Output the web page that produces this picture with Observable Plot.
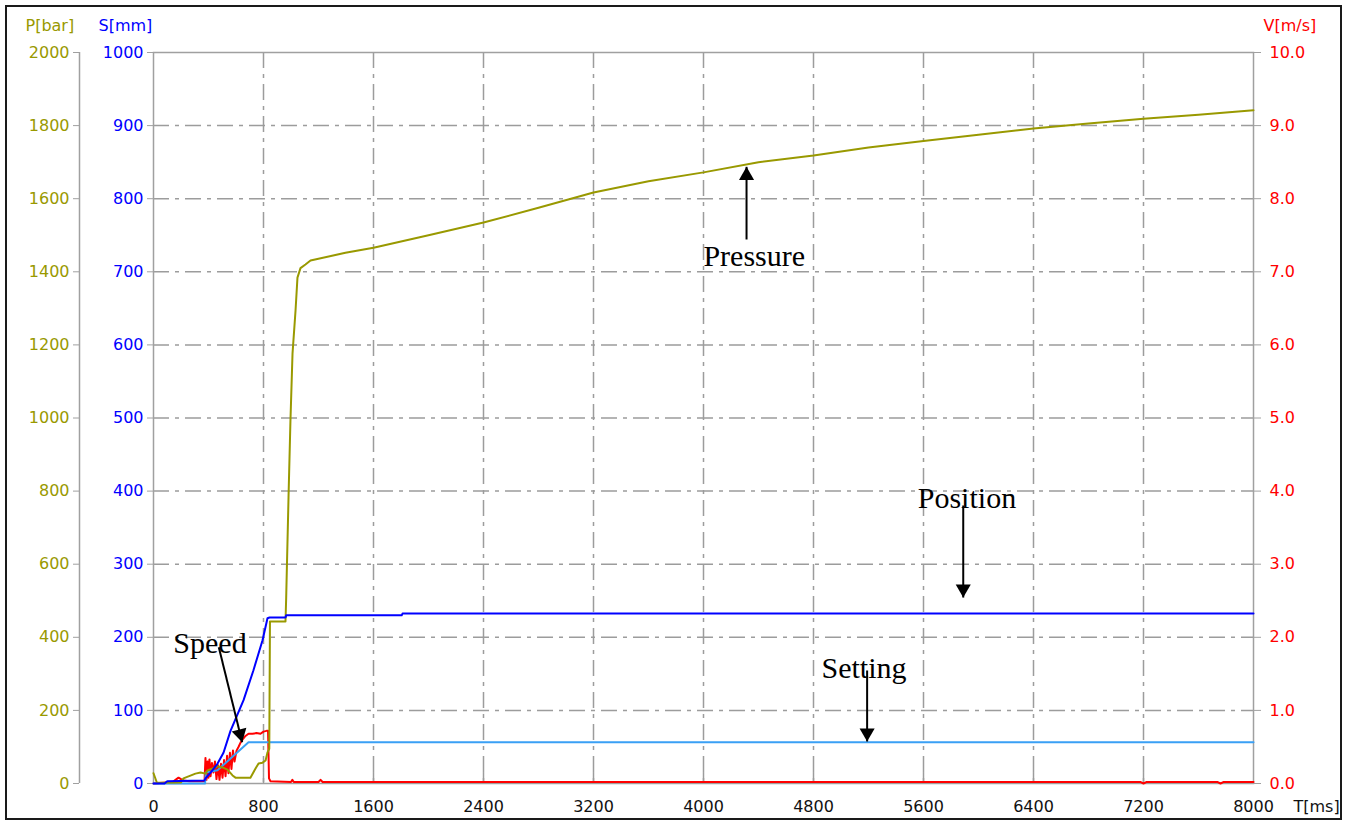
<!DOCTYPE html>
<html><head><meta charset="utf-8">
<script src="https://cdn.jsdelivr.net/npm/d3@7"></script>
<script src="https://cdn.jsdelivr.net/npm/@observablehq/plot@0.6"></script>
<style>
html,body{margin:0;padding:0;background:#fff;}
#wrap{position:relative;width:1348px;height:821px;overflow:hidden;}
#border{position:absolute;left:5px;top:5px;width:1333px;height:811px;border:2px solid #1a1a1a;pointer-events:none;}
</style></head><body>
<div id="wrap"><div id="chart"></div><div id="border"></div></div>
<script>
// ---- Data ----
const timeTicks = [0, 800, 1600, 2400, 3200, 4000, 4800, 5600, 6400, 7200, 8000];
const gridTimes = [800, 1600, 2400, 3200, 4000, 4800, 5600, 6400, 7200];
const sTicks = [0, 100, 200, 300, 400, 500, 600, 700, 800, 900, 1000];
const gridS = [100, 200, 300, 400, 500, 600, 700, 800, 900];
const pTickLabels = ["0", "200", "400", "600", "800", "1000", "1200", "1400", "1600", "1800", "2000"];
const vTickLabels = ["0.0", "1.0", "2.0", "3.0", "4.0", "5.0", "6.0", "7.0", "8.0", "9.0", "10.0"];

// Pressure P [bar]
const pressureT =   [0, 25, 200, 218, 305, 342, 378, 393, 429, 465, 502, 538, 575, 596, 669, 705, 742, 764, 793, 815, 829, 842, 847, 960, 965, 982, 996, 1011, 1033, 1047, 1069, 1105, 1142, 1396, 1600, 2000, 2400, 2800, 3200, 3600, 4000, 4400, 4800, 5200, 5600, 6000, 6400, 6800, 7200, 7600, 8000];
const pressureBar = [28, 2, 3, 14, 27, 30, 27, 36, 41, 47, 44, 38, 22, 16, 16, 16, 41, 55, 57, 63, 85, 95, 443, 443, 509, 783, 993, 1176, 1294, 1384, 1410, 1420, 1431, 1452, 1466, 1500, 1535, 1575, 1617, 1648, 1672, 1700, 1718, 1740, 1758, 1775, 1792, 1806, 1819, 1830, 1842];

// Position S [mm]
const positionT =  [0, 80, 100, 370, 378, 415, 465, 509, 560, 655, 727, 793, 829, 844, 960, 965, 1805, 1811, 8000];
const positionMm = [0, 0, 3, 4, 7, 15, 27, 42, 72, 114, 155, 196, 226, 227, 227, 230, 230, 232.5, 232.5];

// Setting V [m/s]
const settingT =  [0, 375, 380, 465, 691, 8000];
const settingMs = [0, 0, 0.15, 0.18, 0.565, 0.565];

// Speed V [m/s]
const speedT =  [0, 140, 160, 182, 218, 260, 364, 371, 378, 385, 393, 400, 407, 415, 425, 436, 447, 458, 469, 480, 491, 502, 513, 524, 535, 545, 556, 567, 578, 589, 604, 618, 633, 647, 669, 691, 720, 749, 778, 800, 822, 833, 840, 851, 1000, 1010, 1020, 1200, 1215, 1230, 2000, 4000, 6000, 7180, 7200, 7220, 7740, 7760, 7780, 8000];
const speedMs = [0, 0.02, 0.05, 0.08, 0.04, 0.03, 0.03, 0.03, 0.35, 0.05, 0.3, 0.08, 0.33, 0.1, 0.28, 0.15, 0.3, 0.06, 0.25, 0.05, 0.27, 0.08, 0.32, 0.1, 0.38, 0.14, 0.42, 0.2, 0.45, 0.3, 0.45, 0.5, 0.56, 0.6, 0.65, 0.68, 0.68, 0.69, 0.68, 0.71, 0.72, 0.72, 0.07, 0.03, 0.02, 0.05, 0.02, 0.02, 0.05, 0.02, 0.02, 0.02, 0.02, 0.02, 0.0, 0.02, 0.02, 0.0, 0.02, 0.02];

// Annotations (time in ms, height in mm of the S scale)
const annLabels = ["Pressure", "Position", "Setting", "Speed"];
const annLabelT = [4369, 5916, 5167, 411];
const annLabelS = [708.6, 376.2, 145, 179.2];
const arrowTailT = [4313, 5889, 5190, 475];
const arrowTailS = [744.2, 380.3, 154.6, 186.5];
const arrowTipT  = [4313, 5889, 5190, 645];
const arrowTipS  = [843.6, 254.4, 57.5, 56.5];

// ---- Build ----
const idx = n => d3.range(n);
const gridColor = "#9c9c9c";
const olive = "#999900", blue = "#0000ff", red = "#ff0000", lightBlue = "#3aa0f5";
const dash = "16,6,4,6";

// arrowhead orientation (styles): rotate in degrees, offsets of triangle centroid from tip
const headStyles = [
  {rotate: 0, dx: 0, dy: 8.7},
  {rotate: 180, dx: 0, dy: -8.7},
  {rotate: 180, dx: 0, dy: -8.7},
  {rotate: 166, dx: -2.1, dy: -8.4}
];

const chart = Plot.plot({
  width: 1348, height: 821,
  marginLeft: 153, marginRight: 95, marginTop: 52, marginBottom: 38,
  x: {domain: [0, 8000], axis: null},
  y: {domain: [0, 1000], axis: null},
  style: {fontFamily: "DejaVu Sans", fontSize: "16px", background: "white", overflow: "visible"},
  marks: [
    Plot.ruleY(gridS, {stroke: gridColor, strokeWidth: 1.5, strokeDasharray: dash}),
    Plot.ruleX(gridTimes, {stroke: gridColor, strokeWidth: 1.5, strokeDasharray: dash}),
    Plot.ruleX(gridTimes, {y1: 0, y2: 15, stroke: gridColor, strokeWidth: 1.5}),
    Plot.frame({stroke: "#a0a0a0", strokeWidth: 1.5}),
    Plot.ruleX([0], {dx: -74, stroke: "#a0a0a0", strokeWidth: 1.5}),
    // axes
    Plot.axisY(sTicks, {anchor: "left", tickSize: 6, tickPadding: 4, stroke: "#a0a0a0", fill: blue, label: null, tickFormat: d => String(d)}),
    Plot.axisY(sTicks, {anchor: "left", dx: -74, tickSize: 6, tickPadding: 4, stroke: "#a0a0a0", fill: olive, label: null, tickFormat: (d, i) => pTickLabels[i]}),
    Plot.axisY(sTicks, {anchor: "right", tickSize: 7, tickPadding: 9, stroke: "#a0a0a0", fill: red, label: null, tickFormat: (d, i) => vTickLabels[i]}),
    Plot.axisX(timeTicks, {anchor: "bottom", tickSize: 0, tickPadding: 17, fill: "#111", label: null, tickFormat: d => String(d)}),
    // axis titles
    Plot.text(["P[bar]"], {text: d => d, frameAnchor: "top-left", dx: -128, dy: -27, textAnchor: "start", lineAnchor: "middle", fill: olive}),
    Plot.text(["S[mm]"], {text: d => d, frameAnchor: "top-left", dx: -55, dy: -27, textAnchor: "start", lineAnchor: "middle", fill: blue}),
    Plot.text(["V[m/s]"], {text: d => d, frameAnchor: "top-right", dx: 10, dy: -27, textAnchor: "start", lineAnchor: "middle", fill: red}),
    Plot.text(["T[ms]"], {text: d => d, frameAnchor: "bottom-right", dx: 40, dy: 23, textAnchor: "start", lineAnchor: "middle", fill: "#111"}),
    // series
    Plot.line(idx(speedT.length), {x: i => speedT[i], y: i => speedMs[i] * 100, stroke: red, strokeWidth: 2}),
    Plot.line(idx(settingT.length), {x: i => settingT[i], y: i => settingMs[i] * 100, stroke: lightBlue, strokeWidth: 2}),
    Plot.line(idx(pressureT.length), {x: i => pressureT[i], y: i => pressureBar[i] / 2, stroke: olive, strokeWidth: 2}),
    Plot.line(idx(positionT.length), {x: i => positionT[i], y: i => positionMm[i], stroke: blue, strokeWidth: 2}),
    // annotations
    Plot.link(idx(annLabels.length), {x1: i => arrowTailT[i], y1: i => arrowTailS[i], x2: i => arrowTipT[i], y2: i => arrowTipS[i], stroke: "black", strokeWidth: 2}),
    ...headStyles.map((h, k) => Plot.dot([k], {x: i => arrowTipT[i], y: i => arrowTipS[i], symbol: "triangle", r: 5.6, fill: "black", stroke: "none", rotate: h.rotate, dx: h.dx, dy: h.dy})),
    Plot.text(idx(annLabels.length), {x: i => annLabelT[i], y: i => annLabelS[i], text: i => annLabels[i], fontFamily: "Liberation Serif", fontSize: 30, fill: "black", textAnchor: "middle", lineAnchor: "bottom"})
  ]
});
document.getElementById("chart").appendChild(chart);
</script>
</body></html>
